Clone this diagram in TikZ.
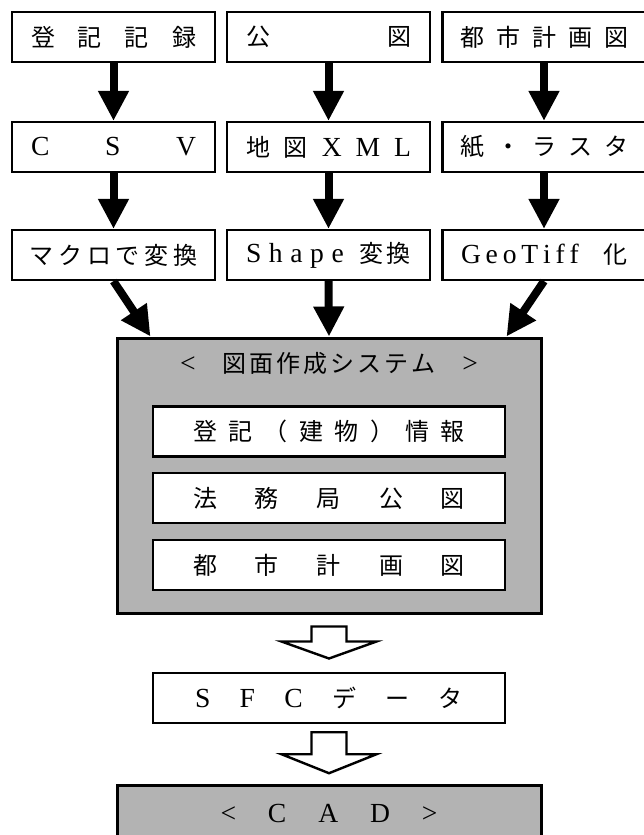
\documentclass[tikz,border=0pt]{standalone}
\usepackage{fontspec}
\setmainfont{Liberation Serif}
\newfontfamily\jp{Noto Sans CJK JP}
\newfontfamily\lat[Scale=1.15]{Liberation Serif}
\usetikzlibrary{arrows.meta,calc}
\definecolor{boxgray}{RGB}{179,179,179}
\tikzset{
  jtext/.style={font=\jp\fontsize{24}{26}\selectfont},
  srcbox/.style={draw,line width=2.2pt,fill=white,minimum width=203pt,minimum height=50pt,inner sep=0pt,jtext},
  innerbox/.style={draw,line width=2.4pt,fill=white,minimum width=352pt,minimum height=50pt,inner sep=0pt,jtext},
  sysbox/.style={draw,line width=3pt,fill=boxgray,minimum width=424pt,minimum height=275pt,inner sep=0pt},
  txt/.style={inner sep=0pt,jtext},
  blk/.style={line width=8pt,-{Triangle[width=29pt,length=30pt]}},
  hollow/.style={draw,line width=2.4pt,fill=white,line join=miter}
}
\begin{document}
\begin{tikzpicture}[x=1pt,y=-1pt]
\useasboundingbox (0,0) rectangle (644,835);
\clip (0,0) rectangle (644,835);
% row 1
\node[srcbox] (r1a) at (113.5,37) {\makebox[165pt]{登\hfill 記\hfill 記\hfill 録}};
\node[srcbox] (r1b) at (328.5,37) {\makebox[165pt]{公\hfill 図}};
\node[srcbox] (r1c) at (544,37) {\makebox[168pt]{都\hfill 市\hfill 計\hfill 画\hfill 図}};
% row 2
\node[srcbox] (r2a) at (113.5,147) {\makebox[165pt]{{\lat C}\hfill{\lat S}\hfill{\lat V}}};
\node[srcbox] (r2b) at (328.5,147) {\makebox[165pt]{地\hfill 図\hfill{\lat X}\hfill{\lat M}\hfill{\lat L}}};
\node[srcbox] (r2c) at (544,147) {\makebox[168pt]{紙\hfill ・\hfill ラ\hfill ス\hfill タ}};
% row 3
\node[srcbox] (r3a) at (113.5,255) {\makebox[168pt]{マ\hfill ク\hfill ロ\hfill で\hfill 変\hfill 換}};
\node[srcbox] (r3b) at (328.5,255) {\makebox[165pt]{{\lat S}\hfill{\lat h}\hfill{\lat a}\hfill{\lat p}\hfill{\lat e}\hfill\hfill 変\kern4pt 換}};
\node[srcbox] (r3c) at (544,255) {\makebox[166pt]{{\lat G}\hfill{\lat e}\hfill{\lat o}\hfill{\lat T}\hfill{\lat i}\hfill{\lat f}\hfill{\lat f}\hfill\hfill\hfill\hfill\hfill 化}};
% system box
\node[sysbox] (sys) at (329,475.5) {};
\node[txt] (systitle) at (329,363) {\makebox[298pt]{{\lat <}\hfill 図\kern3pt 面\kern3pt 作\kern3pt 成\kern3pt シ\kern3pt ス\kern3pt テ\kern3pt ム\hfill{\lat >}}};
\node[innerbox] (i1) at (329,431.5) {\makebox[272pt]{登\hfill 記\hfill （\hfill 建\hfill 物\hfill ）\hfill 情\hfill 報}};
\node[innerbox] (i2) at (329,498) {\makebox[272pt]{法\hfill 務\hfill 局\hfill 公\hfill 図}};
\node[innerbox] (i3) at (329,565) {\makebox[272pt]{都\hfill 市\hfill 計\hfill 画\hfill 図}};
% SFC
\node[innerbox] (sfc) at (329,698) {\makebox[268pt]{{\lat S}\hfill{\lat F}\hfill{\lat C}\hfill デ\hfill ー\hfill タ}};
% CAD
\node[sysbox,minimum height=75pt] (cad) at (329,822.5) {};
\node[txt] (cadt) at (329,813) {\makebox[217pt]{{\lat <}\hfill{\lat C}\hfill{\lat A}\hfill{\lat D}\hfill{\lat >}}};
% arrows
\draw[blk] (r1a.south) -- (r2a.north);
\draw[blk] (r1b.south) -- (r2b.north);
\draw[blk] (r1c.south) -- (r2c.north);
\draw[blk] (r2a.south) -- (r3a.north);
\draw[blk] (r2b.south) -- (r3b.north);
\draw[blk] (r2c.south) -- (r3c.north);
\draw[blk] (r3a.south) -- ($(sys.north west)+(35,0)$);
\draw[blk] (r3b.south) -- (sys.north);
\draw[blk] (r3c.south) -- ($(sys.north east)+(-36,0)$);
% hollow arrows
\coordinate (h1) at ($(sys.south)+(0,12)$);
\draw[hollow] ($(h1)+(-17.5,0)$) -- ($(h1)+(17.5,0)$) -- ($(h1)+(17.5,15)$) -- ($(h1)+(47.5,15)$) -- ($(h1)+(0,32)$) -- ($(h1)+(-47.5,15)$) -- ($(h1)+(-17.5,15)$) -- cycle;
\coordinate (h2) at ($(sfc.south)+(0,8)$);
\draw[hollow] ($(h2)+(-17.5,0)$) -- ($(h2)+(17.5,0)$) -- ($(h2)+(17.5,22)$) -- ($(h2)+(47.5,22)$) -- ($(h2)+(0,41)$) -- ($(h2)+(-47.5,22)$) -- ($(h2)+(-17.5,22)$) -- cycle;
\end{tikzpicture}
\end{document}
